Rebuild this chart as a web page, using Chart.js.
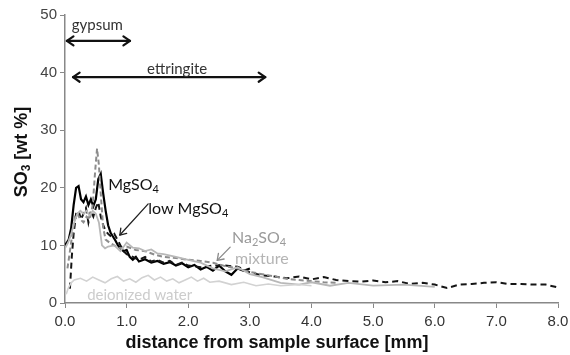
<!DOCTYPE html>
<html>
<head>
<meta charset="utf-8">
<script src="https://cdn.jsdelivr.net/npm/chart.js@4.4.1/dist/chart.umd.min.js"></script>
<style>
html,body{margin:0;padding:0;background:#fff;}
#wrap{width:570px;height:355px;position:relative;}
</style>
</head>
<body>
<div id="wrap"><canvas id="c" width="570" height="355"></canvas></div>
<script>
// ---- data ----
const xTickLabels = ["0.0","1.0","2.0","3.0","4.0","5.0","6.0","7.0","8.0"];
const yTickLabels = ["0","10","20","30","40","50"];

const mgso4X = [0.00,0.03,0.06,0.10,0.14,0.18,0.22,0.26,0.30,0.34,0.38,0.42,0.46,0.50,0.54,0.58,0.62,0.66,0.70,0.74,0.78,0.82,0.86,0.90,0.95,1.00,1.05,1.10,1.15,1.20,1.30,1.40,1.50,1.60,1.70,1.80,1.90,2.00,2.10,2.20,2.30,2.40,2.50,2.60,2.70,2.80,2.90,3.00];
const mgso4Y = [10,10.5,11,13,17,20,20.3,18,17.5,18.5,17,18,16.8,18,21.5,22.4,19,16,13.5,12.2,11.5,10.8,10,9.5,9,9.2,8,7.5,8,7.2,7.6,7,7.3,6.8,7.1,6.5,6.9,6.2,6.6,5.8,6.3,5.6,6.5,5.5,4.9,6,5.6,6];

const lowMgX = [0.08,0.11,0.14,0.18,0.22,0.26,0.30,0.34,0.38,0.42,0.46,0.50,0.54,0.58,0.62,0.66,0.70,0.75,0.80,0.85,0.90,0.95,1.00,1.10,1.20,1.30,1.40,1.50,1.60,1.70,1.80,1.90,2.00,2.20,2.40,2.60,2.80,3.00,3.20,3.40,3.60,3.80,4.00,4.20,4.40,4.60,4.80,5.00,5.20,5.40,5.60,5.80,6.00,6.20,6.40,6.60,6.80,7.00,7.20,7.40,7.60,7.80,8.00];
const lowMgY = [2.5,8,12,15.5,16,14.5,15.5,16.5,14,16,15,16.5,17.5,15,13.5,12.5,12,11.5,12,11,10,9,8.5,8,7.5,8,7.2,7.5,7,7.3,6.6,7,6.5,6.2,6.5,6.5,6.3,5.3,4.8,4.6,4.3,4.6,4.1,4.5,4.0,3.8,3.7,3.9,3.6,3.8,3.3,3.5,3.2,2.6,3.2,3.3,3.5,3.6,3.3,3.3,3.2,3.2,2.7];

const na2so4X = [0.04,0.08,0.12,0.16,0.20,0.25,0.30,0.35,0.40,0.45,0.49,0.52,0.55,0.58,0.62,0.66,0.72,0.80,0.90,1.00,1.15,1.30,1.45,1.60,1.80,2.00,2.20,2.40,2.60,2.80,3.00,3.20,3.40,3.60,3.80,4.00,4.20,4.40];
const na2so4Y = [6,9,12,15,15.5,14.5,14,15,14.5,17,23,26.8,24,19,13,11,10.5,10,9.5,9.8,9.2,9,8.4,8,7.8,7.5,7.3,7,6.4,6,5.4,5,4.6,4.2,4,3.8,3.6,3.5];

const mixtureX = [0.00,0.05,0.10,0.15,0.20,0.25,0.30,0.35,0.40,0.45,0.50,0.55,0.60,0.65,0.70,0.80,0.90,1.00,1.10,1.20,1.30,1.40,1.50,1.60,1.80,2.00,2.20,2.40,2.60,2.80,3.00,3.20,3.50,3.80,4.00,4.30,4.60,5.00,5.50,6.00];
const mixtureY = [9.5,10.5,12,14,15.5,16,15.5,16,15.2,16,15.5,14,10,9.5,9.8,10,9,10.5,9.6,9.5,9,9.3,8.6,8.5,8,7.5,7,6,5.5,6.2,5,4.5,3.5,3.2,3.6,3,3.5,3,3.2,2.8];

const waterX = [0.02,0.05,0.10,0.15,0.25,0.35,0.45,0.55,0.65,0.75,0.85,0.95,1.05,1.15,1.25,1.35,1.45,1.55,1.65,1.75,1.85,1.95,2.05,2.15,2.25,2.35,2.50,2.70,2.90,3.10,3.30,3.50,3.80,4.00];
const waterY = [1.5,2.5,3.5,4,4.3,3.8,4.5,4,3.5,4.2,4.6,3.8,4.2,3.6,4.4,4.8,4,4.5,3.8,4.2,3.5,4,4.5,3.8,4.3,3.6,3.8,3.2,3.6,3.0,3.3,3.0,3.2,3.0];

const seriesNames = ["MgSO4","low MgSO4","Na2SO4","mixture","deionized water"];

function pts(xs, ys){ return xs.map((x,i)=>({x:x,y:ys[i]})); }

// ---- annotations plugin ----
function drawSubText(ctx, parts, x, y, size, color, family, weight){
  family = family || 'Lato, "Open Sans", sans-serif';
  weight = weight || '';
  ctx.fillStyle = color;
  ctx.textBaseline = 'middle';
  ctx.textAlign = 'left';
  let cx = x;
  for (const [t, sub] of parts){
    ctx.font = weight + ' ' + (sub ? Math.round(size*0.68) : size) + 'px ' + family;
    ctx.fillText(t, cx, sub ? y + size*0.28 : y);
    cx += ctx.measureText(t).width;
  }
  return cx - x;
}
function measureSub(ctx, parts, size, family, weight){
  let w = 0;
  for (const [t, sub] of parts){
    ctx.font = weight + ' ' + (sub ? Math.round(size*0.68) : size) + 'px ' + family;
    w += ctx.measureText(t).width;
  }
  return w;
}
function arrowHead(ctx, x1, y1, x2, y2, len){
  const a = Math.atan2(y2-y1, x2-x1);
  ctx.beginPath();
  ctx.moveTo(x2 - len*Math.cos(a-0.6), y2 - len*Math.sin(a-0.6));
  ctx.lineTo(x2, y2);
  ctx.lineTo(x2 - len*Math.cos(a+0.6), y2 - len*Math.sin(a+0.6));
  ctx.stroke();
}
function arrow(ctx, x1,y1,x2,y2,double,w,len){
  ctx.lineWidth = w;
  ctx.beginPath(); ctx.moveTo(x1,y1); ctx.lineTo(x2,y2); ctx.stroke();
  arrowHead(ctx,x1,y1,x2,y2,len);
  if (double) arrowHead(ctx,x2,y2,x1,y1,len);
}

const annot = {
  id:'annot',
  afterDatasetsDraw(chart){
    const ctx = chart.ctx, xs = chart.scales.x, ys = chart.scales.y;
    const X = v=>xs.getPixelForValue(v), Y = v=>ys.getPixelForValue(v);
    ctx.save();
    ctx.strokeStyle = '#111'; ctx.lineCap='round'; ctx.lineJoin='round';
    arrow(ctx, X(0.03), Y(45.5), X(1.055), Y(45.5), true, 2.2, 8);
    arrow(ctx, X(0.13), Y(39.2), X(3.25), Y(39.2), true, 2.2, 8);
    drawSubText(ctx, [["gypsum",false]], X(0.11), Y(48.3), 15, '#333');
    ctx.textAlign='center';
    ctx.font = '15px Lato, "Open Sans", sans-serif';
    ctx.fillStyle = '#333'; ctx.textBaseline='middle';
    ctx.fillText('ettringite', X(1.82), Y(40.6));
    drawSubText(ctx, [["MgSO",false],["4",true]], X(0.70), Y(20.5), 16, '#111');
    drawSubText(ctx, [["low MgSO",false],["4",true]], X(1.35), Y(16.4), 16, '#111');
    ctx.strokeStyle='#222';
    arrow(ctx, X(1.35), Y(17.2), X(0.89), Y(11.8), false, 1.3, 7);
    drawSubText(ctx, [["Na",false],["2",true],["SO",false],["4",true]], X(2.71), Y(11.25), 16, '#9a9a9a');
    ctx.strokeStyle='#8a8a8a';
    arrow(ctx, X(2.68), Y(9.7), X(2.47), Y(7.4), false, 1.3, 7);
    drawSubText(ctx, [["mixture",false]], X(2.76), Y(7.6), 16, '#b4b4b4');
    drawSubText(ctx, [["deionized water",false]], X(0.36), Y(1.35), 15, '#cccccc');
    // axis titles
    ctx.fillStyle='#111';
    ctx.font='bold 18px "Liberation Sans", Arial, sans-serif';
    ctx.textAlign='center'; ctx.textBaseline='middle';
    ctx.fillText('distance from sample surface [mm]', 277, 343);
    const fam = '"Liberation Sans", Arial, sans-serif';
    const parts = [["SO",false],["3",true],[" [wt %]",false]];
    const w = measureSub(ctx, parts, 18, fam, 'bold');
    ctx.translate(22, 152); ctx.rotate(-Math.PI/2);
    drawSubText(ctx, parts, -w/2, 0, 18, '#111', fam, 'bold');
    ctx.restore();
  }
};

const common = {pointRadius:0, fill:false, tension:0};
new Chart(document.getElementById('c'), {
  type:'line',
  data:{ datasets:[
    {label:seriesNames[4], data:pts(waterX,waterY), borderColor:'#d2d2d2', borderWidth:1.6, ...common},
    {label:seriesNames[3], data:pts(mixtureX,mixtureY), borderColor:'#b8b8b8', borderWidth:1.8, ...common},
    {label:seriesNames[2], data:pts(na2so4X,na2so4Y), borderColor:'#8c8c8c', borderWidth:2, borderDash:[5,3], ...common},
    {label:seriesNames[1], data:pts(lowMgX,lowMgY), borderColor:'#151515', borderWidth:2, borderDash:[6,4], ...common},
    {label:seriesNames[0], data:pts(mgso4X,mgso4Y), borderColor:'#000', borderWidth:2.2, ...common}
  ]},
  options:{
    responsive:false, animation:false,
    layout:{padding:{top:15,right:12,left:0,bottom:0}},
    plugins:{legend:{display:false}, tooltip:{enabled:false}},
    scales:{
      x:{type:'linear', min:0, max:8,
        ticks:{stepSize:1, autoSkip:false, maxRotation:0, padding:5, color:'#333',
          font:{family:'"Liberation Sans", Arial, sans-serif', size:15},
          callback:(v,i)=>xTickLabels[i]},
        grid:{display:true, drawOnChartArea:false, drawTicks:true, tickLength:5, color:'#888', lineWidth:1},
        border:{display:true, color:'#888', width:1.5},
        afterFit(s){ s.height = 52; s.paddingLeft = 0; s.paddingRight = 0; }
      },
      y:{min:0, max:50,
        ticks:{stepSize:10, padding:3, color:'#444',
          font:{family:'"Liberation Sans", Arial, sans-serif', size:15},
          callback:(v,i)=>yTickLabels[i]},
        grid:{display:true, drawOnChartArea:false, drawTicks:true, tickLength:5, color:'#888', lineWidth:1},
        border:{display:true, color:'#888', width:1.5},
        afterFit(s){ s.width = 65; s.paddingTop = 0; s.paddingBottom = 0; }
      }
    }
  },
  plugins:[annot]
});
</script>
</body>
</html>
